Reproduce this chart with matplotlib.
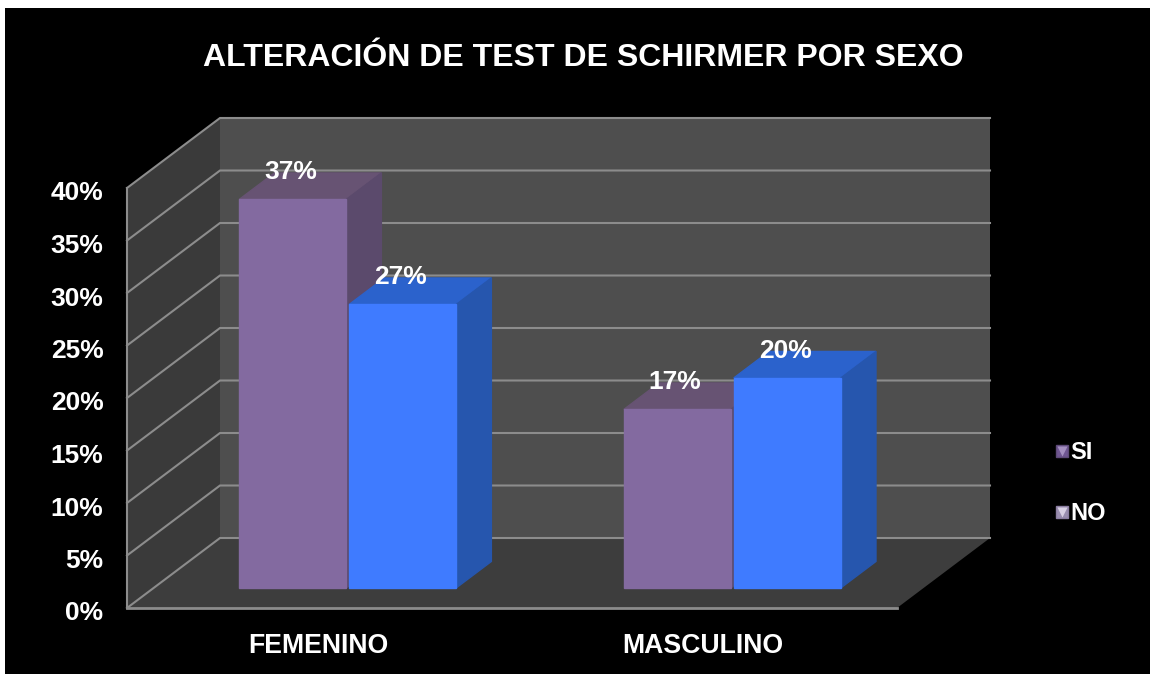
import matplotlib
matplotlib.use('Agg')
import matplotlib.pyplot as plt
from matplotlib.legend_handler import HandlerTuple
from matplotlib.lines import Line2D
from matplotlib.patches import Polygon, Rectangle
from matplotlib.transforms import ScaledTranslation

plt.rcParams['font.family'] = ['Liberation Sans', 'DejaVu Sans']
plt.rcParams['font.weight'] = 'bold'

title = 'ALTERACIÓN DE TEST DE SCHIRMER POR SEXO'
categories = ['FEMENINO', 'MASCULINO']
series_names = ['SI', 'NO']
si_values = [37, 17]
no_values = [27, 20]
y_ticks = [0, 5, 10, 15, 20, 25, 30, 35, 40]

W, H = 1150, 674
fig = plt.figure(figsize=(W / 100, H / 100), dpi=100, facecolor='white')
fig.add_artist(Rectangle((5 / W, 0), 1, 1 - 8 / H, transform=fig.transFigure,
                         facecolor='black', edgecolor='none', zorder=-10))

# front plane of the 3d box, in pixels 127..897 / 188..608
ax = fig.add_axes([127 / W, (H - 608) / H, 770 / W, 420 / H])
ax.patch.set_visible(False)
ax.set_xlim(0, 2)
ax.set_ylim(0, 40)
for s in ax.spines.values():
    s.set_visible(False)

# full depth of the box in data units
DX = 93 / 385
DY = 70 / 10.5


def pt(x, y, d):
    return (x + d * DX, y + d * DY)


def face(pts, color, edge='none', z=1):
    ax.add_patch(Polygon(pts, closed=True, facecolor=color, edgecolor=edge,
                         linewidth=1, clip_on=False, zorder=z))


GRID = '#8c8c8c'
face([pt(0, 0, 1), pt(2, 0, 1), pt(2, 40, 1), pt(0, 40, 1)], '#4e4e4e')
face([pt(0, 0, 0), pt(0, 0, 1), pt(0, 40, 1), pt(0, 40, 0)], '#3a3a3a')
face([pt(0, 0, 0), pt(2, 0, 0), pt(2, 0, 1), pt(0, 0, 1)], '#3d3d3d')

for v in y_ticks:
    xs, ys = zip(pt(0, v, 0), pt(0, v, 1), pt(2, v, 1))
    ax.plot(xs, ys, color=GRID, lw=1.5, clip_on=False, zorder=2,
            solid_joinstyle='miter')
ax.plot([0, 0], [0, 40], color=GRID, lw=1.5, clip_on=False, zorder=2)
ax.plot([0, 2], [0, 0], color=GRID, lw=2, clip_on=False, zorder=2)

# bars
d0, d1 = 0.286, 0.665
bar_w = 107 / 385
gap = 3 / 385
centers = [0.504, 1.503]
colors = {
    'SI': ('#836aa0', '#675373', '#5b4a6c'),
    'NO': ('#3f7bff', '#2b62cc', '#2656ae'),
}


def bar3d(x0, val, cols, z):
    x1 = x0 + bar_w
    front, top, side = cols
    face([pt(x0, val, d0), pt(x0, val, d1), pt(x1, val, d1), pt(x1, val, d0)], top, top, z)
    face([pt(x1, 0, d0), pt(x1, 0, d1), pt(x1, val, d1), pt(x1, val, d0)], side, side, z)
    face([pt(x0, 0, d0), pt(x1, 0, d0), pt(x1, val, d0), pt(x0, val, d0)], front, front, z + 0.1)
    lx, ly = pt(x0 + bar_w / 2, val, d0)
    ax.annotate('%d%%' % val, (lx, ly), xytext=(-1.5, 19.5), textcoords='offset points',
                ha='center', va='center', color='white', fontsize=19, zorder=20,
                annotation_clip=False)


for i, c in enumerate(centers):
    bar3d(c - gap / 2 - bar_w, si_values[i], colors['SI'], 3 + i)
    bar3d(c + gap / 2, no_values[i], colors['NO'], 3.5 + i)

# axes text
ax.set_yticks(y_ticks)
ax.set_yticklabels(['%d%%' % v for v in y_ticks], color='white', fontsize=19)
ax.set_xticks([0.497, 1.495])
ax.set_xticklabels(categories, color='white', fontsize=19.2)
ax.tick_params(axis='both', length=0)
ax.tick_params(axis='y', pad=17)
ax.tick_params(axis='x', pad=18)
shift = ScaledTranslation(0, -3 / 100, fig.dpi_scale_trans)
for lab in ax.get_yticklabels():
    lab.set_transform(lab.get_transform() + shift)

fig.text(583 / W, 1 - 58 / H, title, color='white', fontsize=23,
         ha='center', va='center')


def swatch(base, edge, light):
    return (Line2D([], [], linestyle='none', marker='s', markersize=9,
                   markeredgecolor=edge, markerfacecolor=base),
            Line2D([], [], linestyle='none', marker='v', markersize=7,
                   markeredgecolor='none', markerfacecolor=light))


handles = [swatch('#6f5692', '#5d4a78', '#a48fc0'), swatch('#9a8eb0', '#8a7da0', '#d8d0e4')]
fig.legend(handles=handles, labels=series_names, loc='center left',
           bbox_to_anchor=(1036 / W, 1 - 483 / H),
           handler_map={tuple: HandlerTuple(ndivide=1, pad=0)},
           frameon=False, labelcolor='white', fontsize=17, labelspacing=1.6,
           handletextpad=-0.25, borderpad=0, handlelength=1.2)

fig.savefig('out.png', dpi=100, facecolor=fig.get_facecolor())
